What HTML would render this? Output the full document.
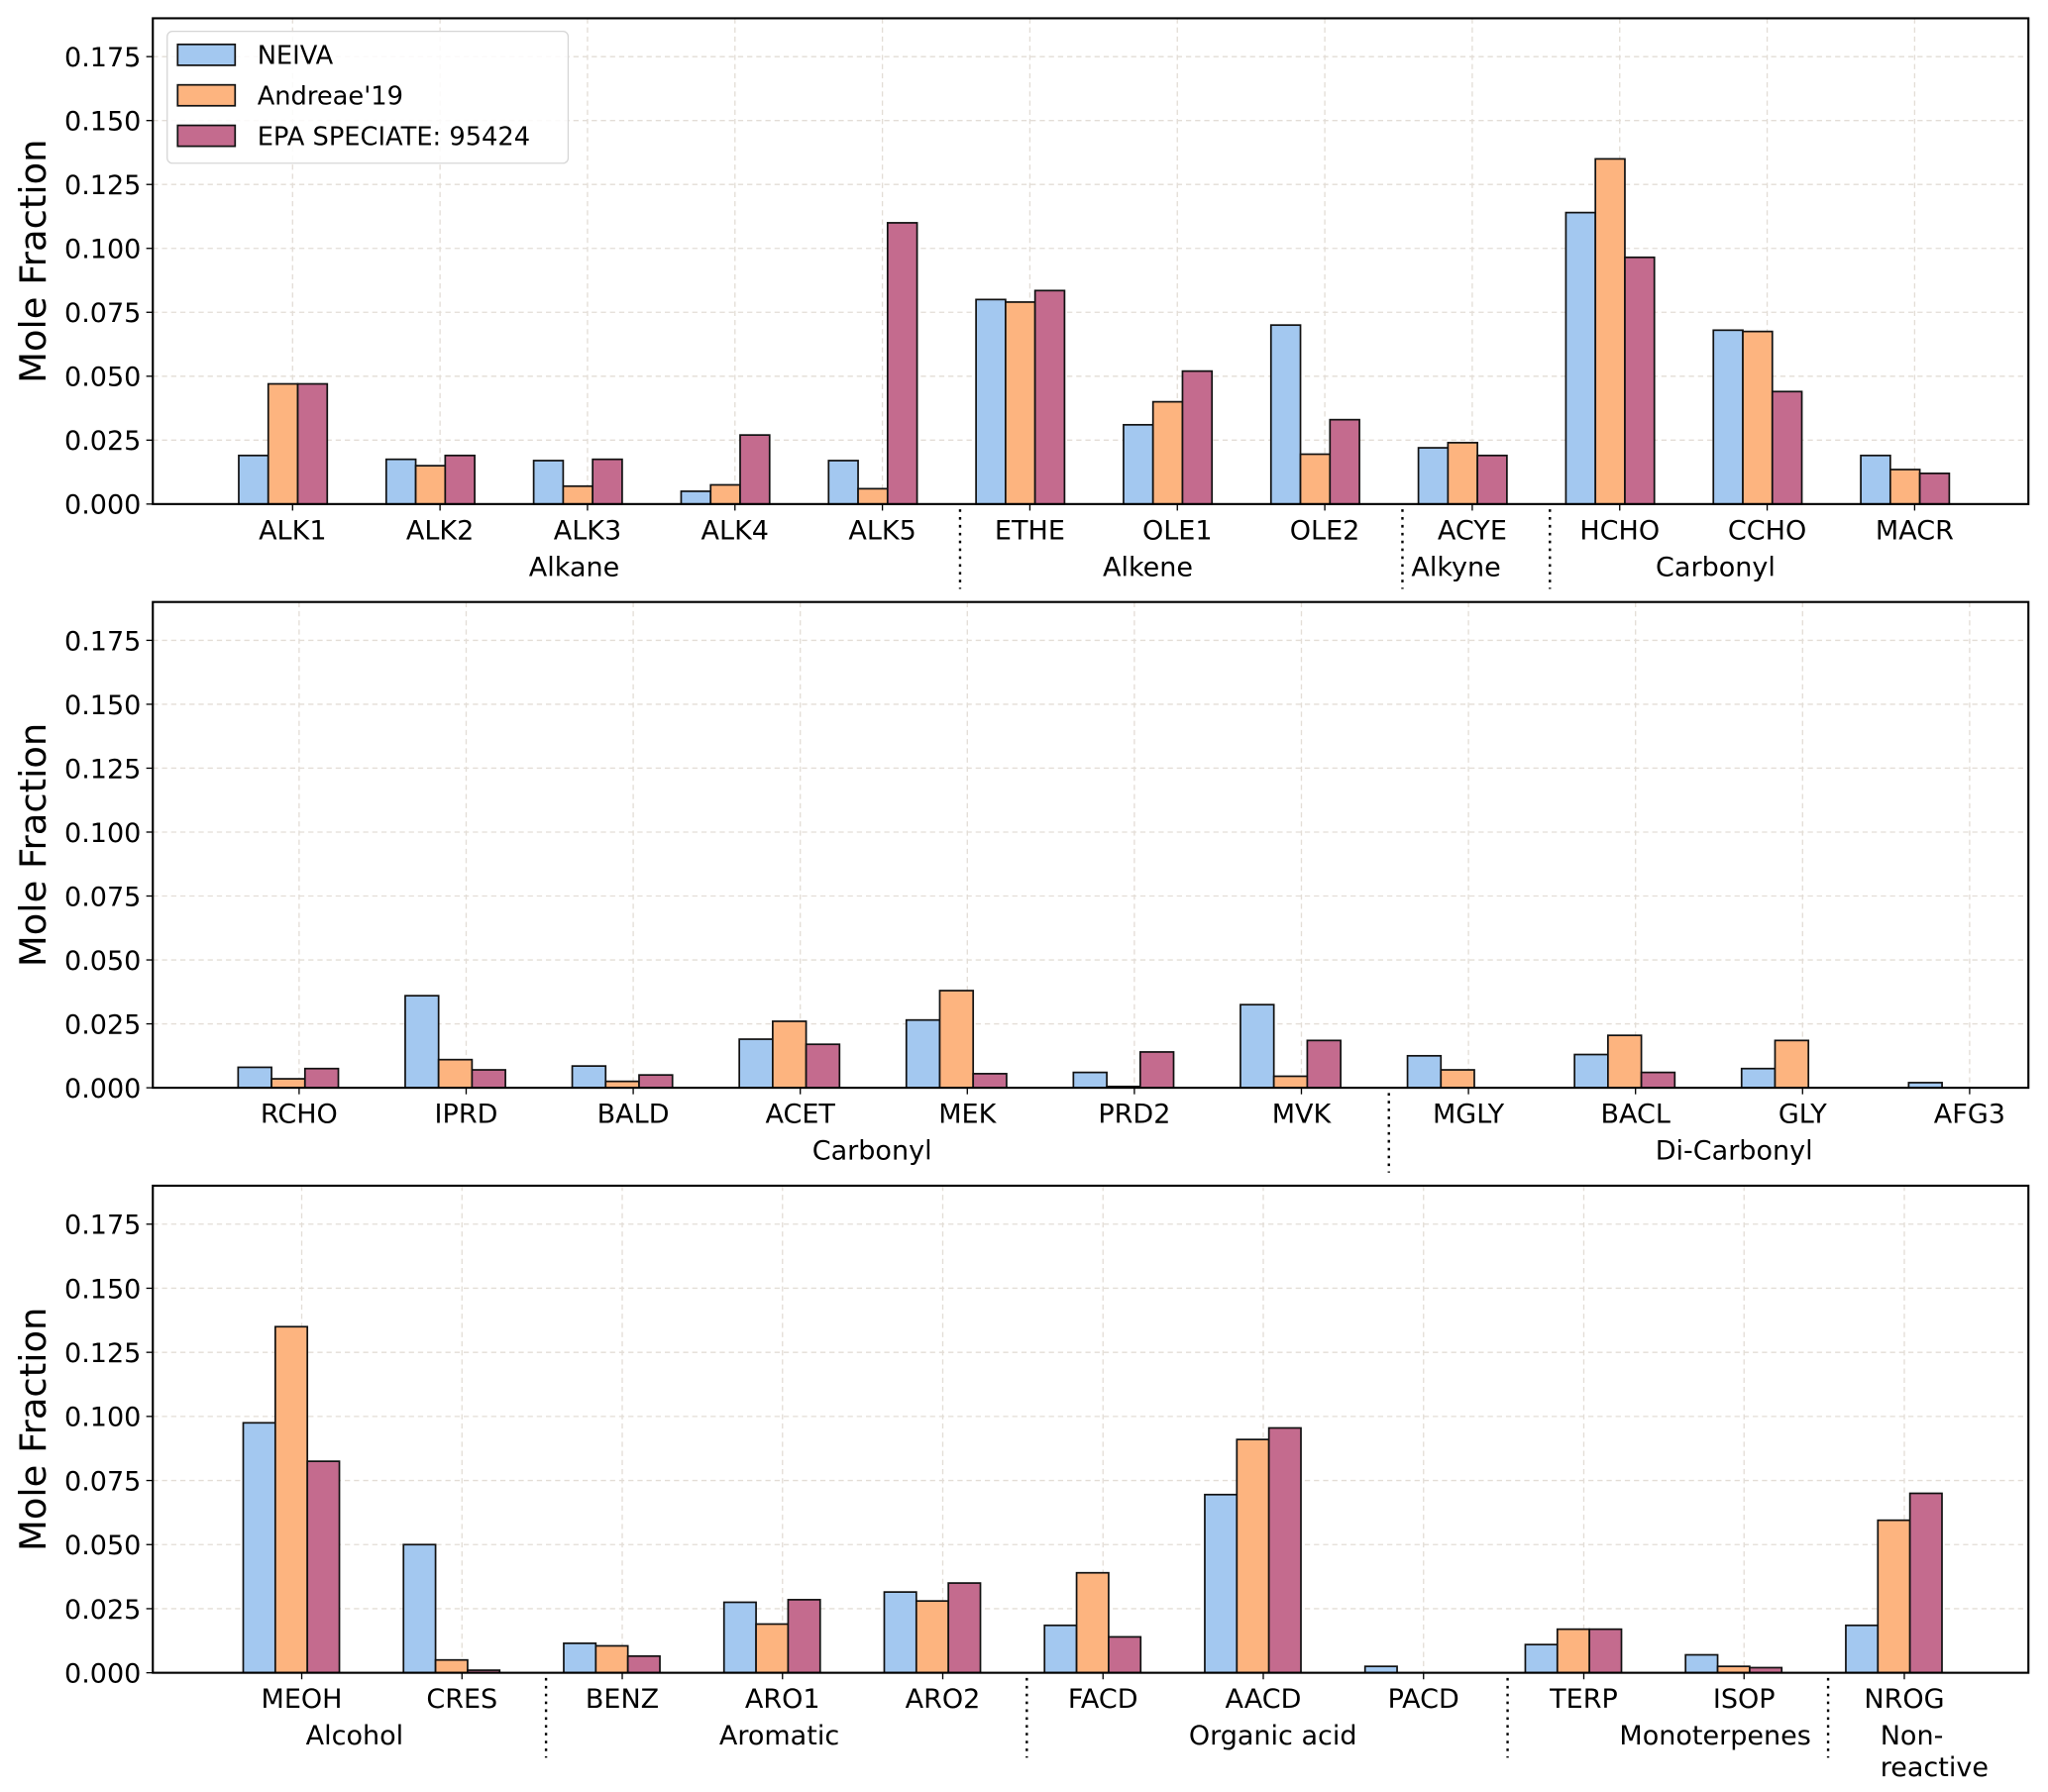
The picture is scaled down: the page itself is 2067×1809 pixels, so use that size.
<!DOCTYPE html>
<html><head><meta charset="utf-8"><style>
html,body{margin:0;padding:0;background:#fff}
svg{display:block}
text{font-family:"DejaVu Sans","Liberation Sans",sans-serif;fill:#000}
</style></head><body>
<svg id="chart" width="2067" height="1809" viewBox="0 0 1568 1372.3" xmlns="http://www.w3.org/2000/svg">
<g id="root"></g>
</svg>
<script>
const series = ["NEIVA", "Andreae'19", "EPA SPECIATE: 95424"];
const colors = ["#a3c8f0", "#fdb47f", "#c46b8e"];
const yTicks = [0, 0.025, 0.05, 0.075, 0.1, 0.125, 0.15, 0.175];
const yTickLabels = ["0.000","0.025","0.050","0.075","0.100","0.125","0.150","0.175"];

const cats1 = ["ALK1","ALK2","ALK3","ALK4","ALK5","ETHE","OLE1","OLE2","ACYE","HCHO","CCHO","MACR"];
const neiva1 = [0.019,0.0175,0.017,0.005,0.017,0.080,0.031,0.070,0.022,0.114,0.068,0.019];
const andreae1 = [0.047,0.015,0.007,0.0075,0.006,0.079,0.040,0.0195,0.024,0.135,0.0675,0.0135];
const epa1 = [0.047,0.019,0.0175,0.027,0.110,0.0835,0.052,0.033,0.019,0.0965,0.044,0.012];
// [label, first index, last index, label position (index units)]
const groups1 = [["Alkane",0,4,1.91],["Alkene",5,7,5.8],["Alkyne",8,8,7.89],["Carbonyl",9,11,9.65]];

const cats2 = ["RCHO","IPRD","BALD","ACET","MEK","PRD2","MVK","MGLY","BACL","GLY","AFG3"];
const neiva2 = [0.008,0.036,0.0085,0.019,0.0265,0.006,0.0325,0.0125,0.013,0.0075,0.002];
const andreae2 = [0.0035,0.011,0.0025,0.026,0.038,0.0005,0.0045,0.007,0.0205,0.0185,0];
const epa2 = [0.0075,0.007,0.005,0.017,0.0055,0.014,0.0185,0,0.006,0,0];
const groups2 = [["Carbonyl",0,6,3.43],["Di-Carbonyl",7,10,8.59]];

const cats3 = ["MEOH","CRES","BENZ","ARO1","ARO2","FACD","AACD","PACD","TERP","ISOP","NROG"];
const neiva3 = [0.0975,0.050,0.0115,0.0275,0.0315,0.0185,0.0695,0.0025,0.011,0.007,0.0185];
const andreae3 = [0.135,0.005,0.0105,0.019,0.028,0.039,0.091,0,0.017,0.0025,0.0595];
const epa3 = [0.0825,0.001,0.0065,0.0285,0.035,0.014,0.0955,0,0.017,0.002,0.070];
const groups3 = [["Alcohol",0,1,0.33],["Aromatic",2,4,2.98],["Organic acid",5,7,6.06],["Monoterpenes",8,9,8.82],["Non-|reactive",10,10,9.85]];

const NS = "http://www.w3.org/2000/svg";
const root = document.getElementById("root");
function mk(tag, attrs, parent){
  const e = document.createElementNS(NS, tag);
  for (const k in attrs) e.setAttribute(k, attrs[k]);
  (parent||root).appendChild(e);
  return e;
}
const L = 117, R = 1553, YMAX = 0.19;
const FS = 20.5;

function panel(idx, top, bottom, cats, vals, groups, x0, dx){
  const g = mk("g", {});
  
  
  const yS = v => bottom - v / YMAX * (bottom - top);
  const xS = i => x0 + i * dx;
  yTicks.forEach((t,k) => {
    if (k>0) { const gl = mk("line",{x1:L,x2:R,y1:yS(t),y2:yS(t),stroke:"#e3ddd6","stroke-width":1,"stroke-dasharray":"4,3"},g);
        }
    const tk = mk("line",{x1:L-5,x2:L,y1:yS(t),y2:yS(t),stroke:"#000","stroke-width":1},g);
     
    const tl = mk("text",{x:L-9,y:yS(t)+7.5,"text-anchor":"end","font-size":FS},g);
    tl.textContent = yTickLabels[k];
     
  });
  cats.forEach((c,i) => {
    const gl = mk("line",{x1:xS(i),x2:xS(i),y1:top,y2:bottom,stroke:"#e3ddd6","stroke-width":1,"stroke-dasharray":"4,3"},g);
     
  });
  const bw = 0.2 * dx;
  cats.forEach((c,i) => {
    const gc = xS(i) - 0.065 * dx;
    vals.forEach((arr, s) => {
      const v = arr[i];
      const x = gc + (s - 1.5) * bw;
      const b = mk("rect",{x:x,y:yS(v),width:bw,height:Math.max(0,bottom-yS(v)),fill:colors[s],stroke:"#111","stroke-width":1.3},g);
      
      
    });
    const tk = mk("line",{x1:xS(i),x2:xS(i),y1:bottom,y2:bottom+5,stroke:"#000","stroke-width":1},g);
     
    const tl = mk("text",{x:xS(i),y:bottom+27,"text-anchor":"middle","font-size":FS},g);
    tl.textContent = c;
     
  });
  groups.forEach((gr, k) => {
    const parts = gr[0].split("|");
    const multi = parts.length > 1;
    parts.forEach((p, j) => {
      const t = mk("text",{x:xS(gr[3]),y:bottom+55+j*24,"text-anchor":multi?"start":"middle","font-size":FS},g);
      t.textContent = p;
       
    });
    if (k > 0) {
      const sx = (xS(gr[1]-1) + xS(gr[1])) / 2 + 3;
      const sl = mk("line",{x1:sx,x2:sx,y1:bottom+4,y2:bottom+65,stroke:"#000","stroke-width":1.8,"stroke-dasharray":"2,4"},g);
       
    }
  });
  const fr = mk("rect",{x:L,y:top,width:R-L,height:bottom-top,fill:"none",stroke:"#000","stroke-width":1.6},g);
   
  const yl = mk("text",{x:0,y:0,transform:"translate(35," + ((top+bottom)/2) + ") rotate(-90)","text-anchor":"middle","font-size":28},g);
  yl.textContent = "Mole Fraction";
   
}

panel(0, 14, 386, cats1, [neiva1, andreae1, epa1], groups1, 224, 112.9);
panel(1, 461, 833, cats2, [neiva2, andreae2, epa2], groups2, 229, 127.9);
panel(2, 908, 1281, cats3, [neiva3, andreae3, epa3], groups3, 231, 122.7);

const lg = mk("g", {});


const lb = mk("rect",{x:128,y:24,width:307,height:101,rx:4,fill:"#fff","fill-opacity":0.85,stroke:"#d6d6d6","stroke-width":1},lg);
 
series.forEach((s, i) => {
  const y = 42 + i * 31;
  const p = mk("rect",{x:136,y:y-8,width:44,height:16,fill:colors[i],stroke:"#111","stroke-width":1.3},lg);
   
  const t = mk("text",{x:197,y:y+7,"font-size":19.5},lg);
  t.textContent = s;
   
});
</script>
</body></html>
